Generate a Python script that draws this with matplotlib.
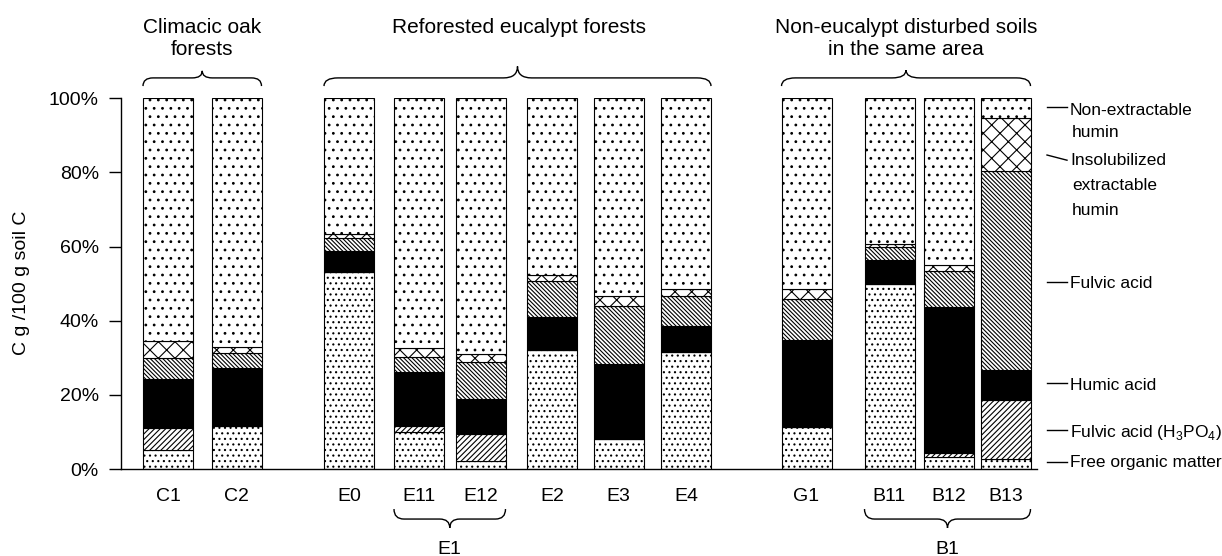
import matplotlib
matplotlib.use('Agg')
import matplotlib.pyplot as plt
from matplotlib import font_manager
from matplotlib.path import Path
from matplotlib.patches import PathPatch

plt.rcParams['font.family'] = ['Liberation Sans', 'DejaVu Sans']
plt.rcParams['mathtext.fontset'] = 'custom'
plt.rcParams['mathtext.rm'] = 'Liberation Sans'
plt.rcParams['hatch.linewidth'] = 0.8

# narrow face for the side labels if it is installed
installed = {f.name for f in font_manager.fontManager.ttflist}
side_font = 'Liberation Sans Narrow' if 'Liberation Sans Narrow' in installed else 'Liberation Sans'
side_size = 14.5 if side_font == 'Liberation Sans Narrow' else 12.5

# soil samples and C fractions (% of soil C)
samples = ['C1', 'C2', 'E0', 'E11', 'E12', 'E2', 'E3', 'E4', 'G1', 'B11', 'B12', 'B13']
free_om = [5.0, 11.7, 53.2, 9.9, 2.1, 32.2, 8.1, 31.5, 11.4, 50.0, 3.2, 2.7]
fulvic_h3po4 = [6.0, 0.0, 0.0, 1.6, 7.4, 0.0, 0.0, 0.0, 0.0, 0.0, 1.0, 15.9]
humic = [13.2, 15.6, 5.6, 14.6, 9.4, 8.8, 20.1, 7.0, 23.5, 6.3, 39.5, 8.2]
fulvic = [5.7, 3.9, 3.4, 4.1, 9.9, 9.7, 15.9, 8.3, 11.0, 3.6, 9.6, 53.6]
insol_humin = [4.6, 1.7, 1.1, 2.4, 2.3, 1.6, 2.7, 1.8, 2.7, 0.7, 1.7, 14.2]
nonext_humin = [65.5, 67.1, 36.7, 67.4, 68.9, 47.7, 53.2, 51.4, 51.4, 39.4, 45.0, 5.4]

yticks = [0, 20, 40, 60, 80, 100]
ytick_labels = ['0%', '20%', '40%', '60%', '80%', '100%']

# bar slots (irregular spacing as in the original)
xpos = [47, 115.5, 228, 298, 359.5, 431, 497.5, 565, 685.5, 768.5, 828, 884.5]
bar_w = 50

fig = plt.figure(figsize=(12.22, 5.56), dpi=100)
ax = fig.add_axes([121 / 1222, 87 / 556, 916 / 1222, 370.7 / 556])

layers = [
    (free_om, 'white', '...'),
    (fulvic_h3po4, 'white', '//////'),
    (humic, 'black', None),
    (fulvic, 'white', '\\' * 8),
    (insol_humin, 'white', 'xx'),
    (nonext_humin, 'white', '..'),
]
bottom = [0.0] * len(samples)
for vals, fc, hatch in layers:
    ax.bar(xpos, vals, bar_w, bottom=bottom, color=fc, edgecolor='black',
           hatch=hatch, linewidth=0.8)
    bottom = [b + v for b, v in zip(bottom, vals)]

ax.set_xlim(0, 916)
ax.set_ylim(0, 100)
ax.set_yticks(yticks)
ax.set_yticklabels(ytick_labels, fontsize=14)
ax.set_xticks(xpos)
ax.set_xticklabels(samples, fontsize=14)
ax.tick_params(axis='x', length=0, pad=14)
ax.tick_params(axis='y', length=9, width=1, pad=7)
for s in ['top', 'right']:
    ax.spines[s].set_visible(False)
for s in ['left', 'bottom']:
    ax.spines[s].set_linewidth(1)

fig.text(22 / 1222, 1 - 283 / 556, 'C g /100 g soil C', rotation=90,
         ha='center', va='center', fontsize=14)


def brace(x0, x1, y_end, y_line, y_tip, r=10):
    xm = (x0 + x1) / 2
    verts = [(x0, y_end), (x0, y_line), (x0 + r, y_line),
             (xm - r, y_line), (xm, y_line), (xm, y_tip),
             (xm, y_line), (xm + r, y_line),
             (x1 - r, y_line), (x1, y_line), (x1, y_end)]
    codes = [Path.MOVETO, Path.CURVE3, Path.CURVE3,
             Path.LINETO, Path.CURVE3, Path.CURVE3,
             Path.CURVE3, Path.CURVE3,
             Path.LINETO, Path.CURVE3, Path.CURVE3]
    ax.add_patch(PathPatch(Path(verts, codes), fill=False, lw=1,
                           edgecolor='black', clip_on=False))


half = bar_w / 2
# group braces on top
brace(xpos[0] - half, xpos[1] + half, 103.3, 105.5, 107.4)
brace(xpos[2] - half, xpos[7] + half, 103.3, 105.5, 108.6, r=14)
brace(xpos[8] - half, xpos[11] + half, 103.3, 105.5, 107.6, r=14)
# sub-group braces below
brace(xpos[3] - half, xpos[4] + half, -10.8, -13.5, -15.9)
brace(xpos[9] - half, xpos[11] + half, -10.8, -13.5, -15.9)

group_titles = [
    ((xpos[0] + xpos[1]) / 2, ['Climacic oak', 'forests']),
    ((xpos[2] + xpos[7]) / 2 + 2, ['Reforested eucalypt forests']),
    ((xpos[8] + xpos[11]) / 2, ['Non-eucalypt disturbed soils', 'in the same area']),
]
for xc, lines in group_titles:
    for i, line in enumerate(lines):
        ax.text(xc, 117.6 - i * 5.9, line, ha='center', va='baseline',
                fontsize=15, clip_on=False)

ax.text((xpos[3] + xpos[4]) / 2, -22.9, 'E1', ha='center', va='baseline', fontsize=14)
ax.text((xpos[9] + xpos[11]) / 2, -22.9, 'B1', ha='center', va='baseline', fontsize=14)

# fraction labels on the right
fraction_labels = [
    (97.7, 97.7, [(95.5, 'Non-extractable'), (89.6, 'humin')]),
    (84.7, 83.3, [(82.0, 'Insolubilized'), (75.3, 'extractable'), (68.5, 'humin')]),
    (50.5, 50.5, [(48.7, 'Fulvic acid')]),
    (23.1, 23.1, [(21.3, 'Humic acid')]),
    (10.5, 10.5, [(8.7, r'Fulvic acid (H$_\mathrm{3}$PO$_\mathrm{4}$)')]),
    (2.0, 2.0, [(0.6, 'Free organic matter')]),
]
for y0, y1, texts in fraction_labels:
    ax.plot([926, 946], [y0, y1], color='black', lw=1, clip_on=False)
    for j, (yt, t) in enumerate(texts):
        ax.text(949 if j == 0 else 951, yt, t, ha='left', va='baseline',
                fontsize=side_size, family=side_font, clip_on=False)

fig.savefig('out.png', dpi=100)
